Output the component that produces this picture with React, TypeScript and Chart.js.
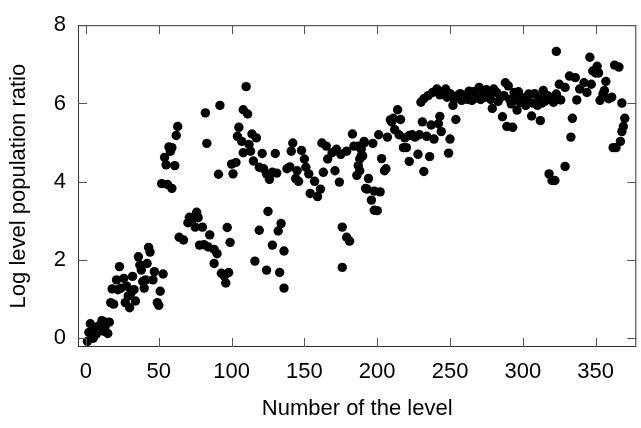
import React, { useEffect, useRef } from 'react';
import { Chart, registerables } from 'chart.js';

Chart.register(...registerables);

// Level number of each point
const levels: number[] = [
  1, 2, 3, 5, 6, 7, 8, 9, 11, 12, 13, 14, 15, 16, 17, 19, 18, 21, 23, 22, 24, 26, 28, 29, 27, 30, 31, 32, 33, 34,
  36, 37, 38, 39, 40, 41, 42, 43, 44, 46, 47, 49, 50, 51, 53,
  52, 56, 59, 54, 55, 61, 57, 59, 58, 62, 63,
  64, 67, 70, 71, 73, 76, 75, 77, 80, 78, 81, 85, 84, 88, 90, 88, 93, 96, 98, 95, 82, 83, 92, 91, 97, 99,
  100, 103, 101, 110, 108, 111, 105, 104, 107, 108, 112, 113, 114, 117, 115, 119, 121, 122, 124, 126, 128, 131, 130,
  116, 119, 124, 125, 128, 132, 134, 136, 133, 136,
  138, 141, 142, 140, 144, 145, 146, 148, 150, 151, 153, 154, 157, 159, 161, 163, 162, 165, 166, 169, 171, 172, 174,
  175, 179, 183, 184, 187, 189, 191, 186, 192,
  176, 179, 181, 176,
  187, 189, 191, 188, 190, 188, 194, 193, 197, 196, 198, 202, 198, 200, 201, 203, 205, 206, 207, 209, 211, 214, 216,
  210, 212, 215, 218, 220, 219, 222, 224, 226, 229, 222, 228, 232, 234, 236, 239, 231, 237, 243, 242, 244, 250, 249,
  254, 230, 232, 235, 238, 241, 243, 247, 248, 252, 255, 258, 260, 263, 265, 268, 270, 272, 274, 277, 279, 280, 282,
  285, 286, 288, 290, 289, 293, 292, 294, 296, 298, 300, 302, 304, 306, 307, 310, 312, 313, 314, 317, 318, 320, 322,
  323, 321, 323, 325, 326, 329, 329, 332, 334, 333, 336, 337, 339, 342, 344, 346, 347, 348, 351, 350, 352, 353, 355,
  357, 356, 359, 361, 363, 366, 368, 370, 369, 368, 367, 364, 362,
  257, 262, 266, 271, 275, 278, 283, 287, 291, 295, 297, 301, 303, 308, 311, 315, 319, 245, 250, 253,
];

// Log level population ratio of each point
const ratios: number[] = [
  -0.08, 0.15, 0.37, 0.0, 0.2, 0.1, 0.24, 0.32, 0.45, 0.18, 0.28, 0.4, 0.12, 0.41, 0.91, 0.87, 1.26, 1.49, 1.83, 1.24, 1.28, 1.53, 1.33, 1.08, 0.91, 0.78, 1.16, 1.58, 1.24, 0.95,
  2.08, 1.87, 1.74, 1.45, 1.28, 1.49, 1.91, 2.32, 2.2, 1.49, 1.7, 0.91, 0.84, 1.2, 1.64,
  3.95, 3.93, 3.83, 4.62, 4.43, 4.41, 4.89, 4.87, 4.78, 5.18, 5.41,
  2.58, 2.51, 2.95, 3.09, 3.03, 3.22, 2.84, 3.08, 2.84, 2.38, 2.39, 2.64, 2.33, 2.27, 2.16, 1.91, 1.66, 1.41, 1.68, 1.59, 5.76, 4.98, 5.95, 4.19, 2.83, 2.45,
  4.45, 4.49, 4.2, 6.43, 5.84, 5.73, 5.39, 5.16, 5.03, 4.74, 4.95, 4.78, 5.22, 5.12, 4.53, 4.37, 4.72, 4.33, 4.2, 4.06, 4.24, 4.22, 4.72,
  1.97, 2.76, 1.74, 3.24, 2.38, 2.74, 2.93, 2.23, 1.68, 1.28,
  4.33, 4.78, 4.99, 4.38, 4.08, 4.28, 4.01, 4.8, 4.58, 4.37, 4.2, 3.7, 4.01, 3.62, 3.81, 4.24, 4.99, 4.91, 4.58, 4.74, 4.28, 4.83, 3.99,
  4.7, 4.78, 5.22, 4.91, 4.41, 4.66, 4.99, 4.16, 3.83,
  2.84, 2.58, 2.48, 1.81,
  4.91, 4.83, 5.03, 4.58, 4.66, 4.28, 4.08, 3.81, 4.98, 3.53, 3.76, 3.74, 3.27, 3.26, 5.2, 4.59, 4.28, 4.33, 5.14, 5.58, 5.62, 5.84, 5.59,
  5.53, 5.33, 5.2, 4.87, 4.87, 5.12, 5.18, 5.2, 5.14, 5.2, 4.52, 4.7, 4.26, 5.16, 4.64, 5.09, 5.53, 5.45, 5.67, 5.48, 5.28, 5.09, 4.73,
  5.59, 6.03, 6.12, 6.2, 6.28, 6.37, 6.22, 6.37, 6.16, 5.95, 6.2, 6.08, 6.17, 6.31, 6.08, 6.14, 6.41, 6.28, 6.16, 6.24, 5.87, 6.37, 6.28,
  6.16, 5.66, 6.53, 6.45, 5.41, 5.39, 5.99, 6.28, 5.83, 6.03, 6.14, 5.95, 6.24, 5.68, 6.01, 5.95, 5.56, 6.01, 6.33, 6.2, 4.2, 4.03, 4.03,
  7.33, 6.03, 6.24, 6.49, 6.09, 6.41, 4.39, 6.7, 5.62, 5.14, 6.66, 6.09, 6.37, 6.53, 6.28, 7.18, 6.49, 6.83, 6.95, 6.78, 6.78, 6.08, 6.24,
  6.56, 6.33, 6.12, 6.16, 6.98, 6.93, 6.01, 5.62, 5.41, 5.28, 5.03, 4.87, 4.87,
  6.25, 6.1, 6.3, 6.1, 6.35, 6.1, 6.05, 6.2, 6.1, 6.15, 6.3, 6.05, 6.1, 6.25, 6.15, 6.05, 6.1, 6.3, 6.25, 6.1,
];

const xTickValues = [0, 50, 100, 150, 200, 250, 300, 350];
const yTickValues = [0, 2, 4, 6, 8];
const xTitle = 'Number of the level';
const yTitle = 'Log level population ratio';

const FONT = 'Liberation Sans, Arial, Helvetica, sans-serif';

const framePlugin = {
  id: 'frameTicks',
  afterDraw(chart: any) {
    const { ctx, chartArea } = chart;
    const xs = chart.scales.x;
    const ys = chart.scales.y;
    const { left, right, top, bottom } = chartArea;
    ctx.save();
    ctx.strokeStyle = '#333';
    ctx.lineWidth = 1;
    ctx.strokeRect(left + 0.5, top + 0.5, right - left - 1, bottom - top - 1);
    ctx.strokeStyle = '#555';
    const len = 9;
    ctx.beginPath();
    for (const v of xTickValues) {
      const px = Math.round(xs.getPixelForValue(v)) + 0.5;
      ctx.moveTo(px, bottom);
      ctx.lineTo(px, bottom - len);
      ctx.moveTo(px, top);
      ctx.lineTo(px, top + len);
    }
    for (const v of yTickValues) {
      const py = Math.round(ys.getPixelForValue(v)) + 0.5;
      ctx.moveTo(left, py);
      ctx.lineTo(left + len, py);
      ctx.moveTo(right, py);
      ctx.lineTo(right - len, py);
    }
    ctx.stroke();
    ctx.restore();
  },
};

export default function App() {
  const ref = useRef<HTMLCanvasElement | null>(null);

  useEffect(() => {
    if (!ref.current) return;
    const points = levels.map((lv, i) => ({ x: lv, y: ratios[i] }));
    const chart = new Chart(ref.current, {
      type: 'scatter',
      data: {
        datasets: [
          {
            data: points,
            backgroundColor: '#000',
            borderWidth: 0,
            pointRadius: 4.7,
            pointHoverRadius: 4.7,
          },
        ],
      },
      options: {
        animation: false,
        responsive: false,
        devicePixelRatio: 1,
        layout: { padding: { left: 0, right: 1, top: 18, bottom: 0 } },
        plugins: { legend: { display: false }, tooltip: { enabled: false } },
        scales: {
          x: {
            type: 'linear',
            min: -5.46,
            max: 377.9,
            grid: { display: false, drawTicks: false },
            border: { display: false },
            afterBuildTicks: (s: any) => {
              s.ticks = xTickValues.map((v) => ({ value: v }));
            },
            afterFit: (s: any) => {
              s.height = 81;
            },
            ticks: {
              autoSkip: false,
              maxRotation: 0,
              padding: 12,
              color: '#000',
              font: { family: FONT, size: 22 },
            },
            title: {
              display: true,
              text: xTitle,
              color: '#000',
              font: { family: FONT, size: 22 },
              padding: { top: 0, bottom: 6 },
            },
          },
          y: {
            type: 'linear',
            min: -0.225,
            max: 8,
            grid: { display: false, drawTicks: false },
            border: { display: false },
            afterBuildTicks: (s: any) => {
              s.ticks = yTickValues.map((v) => ({ value: v }));
            },
            afterFit: (s: any) => {
              s.width = 78;
            },
            ticks: {
              autoSkip: false,
              padding: 12,
              color: '#000',
              font: { family: FONT, size: 22 },
            },
            title: {
              display: true,
              text: yTitle,
              color: '#000',
              font: { family: FONT, size: 22 },
              padding: { top: 6, bottom: 0 },
            },
          },
        },
      },
      plugins: [framePlugin],
    });
    return () => chart.destroy();
  }, []);

  return (
    <div style={{ position: 'absolute', left: 0, top: 0, width: 641, height: 428, background: '#fff' }}>
      <canvas ref={ref} width={641} height={428} style={{ display: 'block', width: 641, height: 428 }} />
    </div>
  );
}
